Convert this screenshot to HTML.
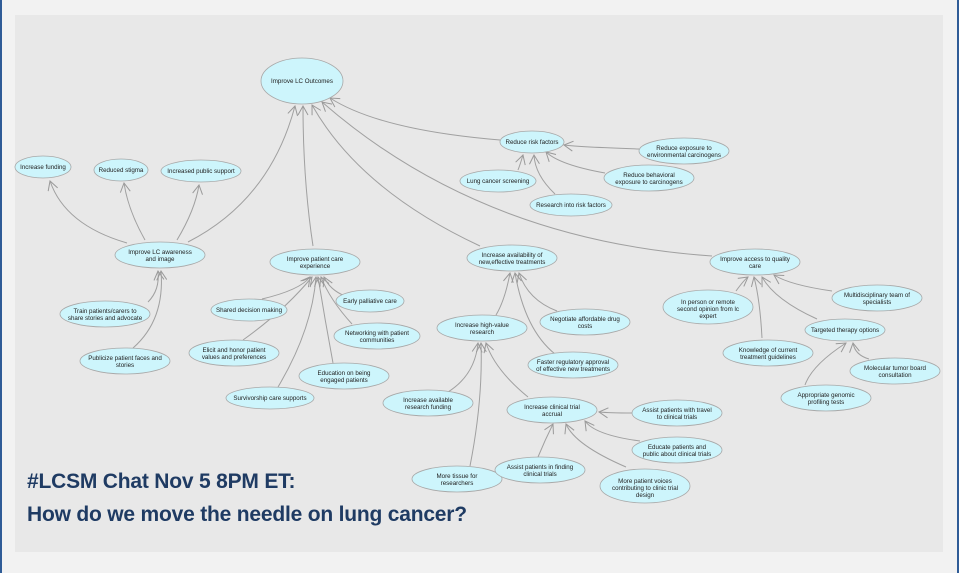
<!DOCTYPE html>
<html><head><meta charset="utf-8"><style>
body{margin:0;width:959px;height:573px;background:#f2f2f2;overflow:hidden;position:relative;font-family:"Liberation Sans",sans-serif}
#l{position:absolute;left:0;top:0;width:2px;height:573px;background:#2f5c97}
#r{position:absolute;left:957px;top:0;width:2px;height:573px;background:#2f5c97}
#in{position:absolute;left:15px;top:15px;width:928px;height:537px;background:#e8e8e8}
svg{position:absolute;left:0;top:0}
.t{position:absolute;left:27px;color:#1f3b63;font-weight:bold;font-size:21px;font-family:"Liberation Sans",sans-serif;letter-spacing:-0.2px}
</style></head><body>
<div id="l"></div><div id="r"></div><div id="in"></div>
<svg width="959" height="573" viewBox="0 0 959 573">
<defs><marker id="a" markerWidth="12" markerHeight="12" refX="10" refY="6" orient="auto" markerUnits="userSpaceOnUse"><path d="M1,1 L10,6 L1,11" fill="none" stroke="#999" stroke-width="1"/></marker></defs>
<g fill="none" stroke="#a0a0a0" stroke-width="1" marker-end="url(#a)">
<path d="M188,242 Q270,200 295,106"/>
<path d="M313,246 Q303,180 303,106"/>
<path d="M480,246 Q360,190 312,105"/>
<path d="M712,256 Q480,240 322,102"/>
<path d="M500,140 Q380,130 330,98"/>
<path d="M127,243 Q65,225 50,181"/>
<path d="M145,240 Q128,210 124,183"/>
<path d="M177,240 Q195,210 199,185"/>
<path d="M148,302 Q160,290 158,271"/>
<path d="M133,348 Q165,320 161,271"/>
<path d="M262,299 Q300,290 310,277"/>
<path d="M243,340 Q285,310 312,277"/>
<path d="M278,387 Q312,330 316,277"/>
<path d="M333,363 Q325,320 318,277"/>
<path d="M352,324 Q330,300 321,277"/>
<path d="M345,296 Q330,290 324,277"/>
<path d="M518,170 Q520,165 523,155"/>
<path d="M555,194 Q535,175 534,155"/>
<path d="M605,173 Q560,165 546,152"/>
<path d="M639,149 Q580,147 564,145"/>
<path d="M496,315 Q505,300 510,273"/>
<path d="M555,354 Q525,330 515,273"/>
<path d="M557,311 Q528,300 519,273"/>
<path d="M736,291 Q744,280 748,277"/>
<path d="M762,338 Q760,300 754,277"/>
<path d="M817,319 Q775,300 762,277"/>
<path d="M832,291 Q790,285 774,275"/>
<path d="M448,392 Q475,375 478,343"/>
<path d="M470,466 Q483,400 481,343"/>
<path d="M528,397 Q495,370 486,343"/>
<path d="M805,385 Q812,365 846,343"/>
<path d="M869,359 Q855,355 853,343"/>
<path d="M632,413 Q610,413 599,412"/>
<path d="M640,441 Q595,435 585,421"/>
<path d="M626,467 Q575,445 566,424"/>
<path d="M538,457 Q545,440 553,424"/>
</g>
<g fill="#cdf5fc" stroke="#a8a8a8" stroke-width="0.8">
<ellipse cx="302" cy="81" rx="41" ry="23"/>
<ellipse cx="43" cy="167" rx="28" ry="11"/><ellipse cx="121" cy="170" rx="27" ry="11"/><ellipse cx="201" cy="171" rx="40" ry="11"/>
<ellipse cx="160" cy="255" rx="45" ry="13"/><ellipse cx="315" cy="262" rx="45" ry="13"/>
<ellipse cx="532" cy="142" rx="32" ry="11"/><ellipse cx="684" cy="151" rx="45" ry="13"/><ellipse cx="498" cy="181" rx="38" ry="11"/>
<ellipse cx="649" cy="178" rx="45" ry="13"/><ellipse cx="571" cy="205" rx="41" ry="11"/>
<ellipse cx="512" cy="258" rx="45" ry="13"/><ellipse cx="755" cy="262" rx="45" ry="13"/><ellipse cx="877" cy="298" rx="45" ry="13"/>
<ellipse cx="708" cy="307" rx="45" ry="17"/><ellipse cx="249" cy="310" rx="38" ry="11"/><ellipse cx="370" cy="301" rx="34" ry="11"/>
<ellipse cx="377" cy="336" rx="43" ry="13"/><ellipse cx="234" cy="353" rx="45" ry="13"/><ellipse cx="344" cy="376" rx="45" ry="13"/>
<ellipse cx="270" cy="398" rx="44" ry="11"/><ellipse cx="482" cy="328" rx="45" ry="13"/><ellipse cx="585" cy="322" rx="45" ry="13"/>
<ellipse cx="573" cy="365" rx="45" ry="13"/><ellipse cx="845" cy="330" rx="40" ry="11"/><ellipse cx="768" cy="353" rx="45" ry="13"/>
<ellipse cx="895" cy="371" rx="45" ry="13"/><ellipse cx="826" cy="398" rx="45" ry="13"/><ellipse cx="428" cy="403" rx="45" ry="13"/>
<ellipse cx="552" cy="410" rx="45" ry="13"/><ellipse cx="677" cy="413" rx="45" ry="13"/><ellipse cx="677" cy="450" rx="45" ry="13"/>
<ellipse cx="457" cy="479" rx="45" ry="13"/><ellipse cx="540" cy="470" rx="45" ry="13"/><ellipse cx="645" cy="486" rx="45" ry="17"/>
<ellipse cx="105" cy="314" rx="45" ry="13"/><ellipse cx="125" cy="361" rx="45" ry="13"/>
</g>
<g font-family="Liberation Sans,sans-serif" font-size="6.2" fill="#222" text-anchor="middle">
<text x="302" y="83">Improve LC Outcomes</text>
<text x="43" y="169">Increase funding</text><text x="121" y="172">Reduced stigma</text><text x="201" y="173">Increased public support</text>
<text x="160" y="254">Improve LC awareness</text><text x="160" y="261">and image</text>
<text x="315" y="261">Improve patient care</text><text x="315" y="268">experience</text>
<text x="532" y="144">Reduce risk factors</text>
<text x="684" y="150">Reduce exposure to</text><text x="684" y="157">environmental carcinogens</text>
<text x="498" y="183">Lung cancer screening</text>
<text x="649" y="177">Reduce behavioral</text><text x="649" y="184">exposure to carcinogens</text>
<text x="571" y="207">Research into risk factors</text>
<text x="512" y="257">Increase availability of</text><text x="512" y="264">new,effective treatments</text>
<text x="755" y="261">Improve access to quality</text><text x="755" y="268">care</text>
<text x="877" y="297">Multidisciplinary team  of</text><text x="877" y="304">specialists</text>
<text x="708" y="304">In person or remote</text><text x="708" y="311">second opinion from lc</text><text x="708" y="318">expert</text>
<text x="249" y="312">Shared decision making</text><text x="370" y="303">Early palliative care</text>
<text x="377" y="335">Networking with patient</text><text x="377" y="342">communities</text>
<text x="234" y="352">Elicit and honor patient</text><text x="234" y="359">values and preferences</text>
<text x="344" y="375">Education on being</text><text x="344" y="382">engaged patients</text>
<text x="270" y="400">Survivorship care supports</text>
<text x="482" y="327">Increase high-value</text><text x="482" y="334">research</text>
<text x="585" y="321">Negotiate affordable drug</text><text x="585" y="328">costs</text>
<text x="573" y="364">Faster regulatory approval</text><text x="573" y="371">of effective new treatments</text>
<text x="845" y="332">Targeted therapy options</text>
<text x="768" y="352">Knowledge of current</text><text x="768" y="359">treatment guidelines</text>
<text x="895" y="370">Molecular tumor board</text><text x="895" y="377">consultation</text>
<text x="826" y="397">Appropriate genomic</text><text x="826" y="404">profiling tests</text>
<text x="428" y="402">Increase available</text><text x="428" y="409">research funding</text>
<text x="552" y="409">Increase clinical trial</text><text x="552" y="416">accrual</text>
<text x="677" y="412">Assist patients with travel</text><text x="677" y="419">to clinical trials</text>
<text x="677" y="449">Educate patients and</text><text x="677" y="456">public about clinical trials</text>
<text x="457" y="478">More tissue for</text><text x="457" y="485">researchers</text>
<text x="540" y="469">Assist patients in finding</text><text x="540" y="476">clinical trials</text>
<text x="645" y="483">More patient voices</text><text x="645" y="490">contributing to clinic trial</text><text x="645" y="497">design</text>
<text x="105" y="313">Train patients/carers to</text><text x="105" y="320">share stories and advocate</text>
<text x="125" y="360">Publicize patient faces and</text><text x="125" y="367">stories</text>
</g>
</svg>
<div class="t" style="top:470px">#LCSM Chat Nov 5 8PM ET:</div>
<div class="t" style="top:503px">How do we move the needle on lung cancer?</div>
</body></html>
